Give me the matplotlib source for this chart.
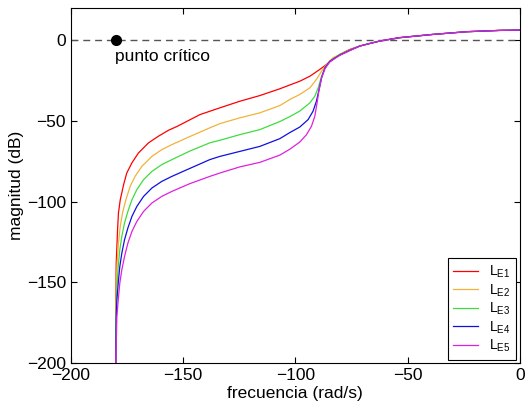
import numpy as np
import matplotlib
matplotlib.use("Agg")
import matplotlib.pyplot as plt

plt.rcParams['font.family'] = ['Liberation Sans', 'DejaVu Sans']
plt.rcParams['mathtext.default'] = 'regular'

# tail shared by all curves (they converge after about -75)
tail_x = [-71.3, -66.8, -62.4, -53.5, -38.8, -23.6, -8.9, 0]
tail_y = [-3.5, -1.9, -0.4, 1.7, 3.7, 5.4, 6.2, 6.4]

le1_x = [-180.0, -180.0, -179.96, -179.8, -179.5, -179.2, -178.8, -178.0, -176.5, -175.1,
         -172.8, -169.9, -165.4, -161.0, -156.5, -152.8, -142.5, -133.6, -124.7, -115.8,
         -106.9, -102.4, -98.0, -93.5, -89.1, -86.1, -83.2, -80.2, -77.2, -75.7] + tail_x
le1_y = [-200, -179.5, -158.8, -138.1, -127.8, -117.4, -107.0, -98.8, -89.4, -82.2,
         -75.9, -69.8, -63.5, -59.4, -55.7, -53.4, -46.0, -41.8, -37.7, -34.2,
         -30.0, -27.6, -25.3, -22.2, -18.0, -14.9, -11.8, -8.7, -6.6, -5.6] + tail_y

le2_x = [-180.0, -179.96, -179.8, -179.4, -178.8, -178.0, -177.0, -175.5, -173.6, -171.4,
         -168.4, -163.9, -159.5, -155.0, -147.0, -138.1, -133.6, -124.7, -115.8, -106.9,
         -102.4, -98.0, -93.5, -90.6, -88.3, -86.1, -83.2, -80.2, -75.7] + tail_x
le2_y = [-200, -173.3, -150.5, -138.1, -125.6, -115.3, -107.0, -98.8, -90.5, -84.3,
         -78.1, -71.9, -67.7, -64.6, -59.6, -54.2, -51.6, -48.0, -44.9, -40.4,
         -36.6, -33.5, -29.4, -24.2, -19.1, -14.9, -10.7, -8.7, -6.0] + tail_y

le3_x = [-180.0, -179.96, -179.8, -179.5, -178.9, -178.2, -177.3, -176.1, -174.6, -172.8,
         -170.6, -167.6, -163.9, -159.5, -155.0, -147.0, -138.1, -133.6, -124.7, -115.8,
         -106.9, -102.4, -98.0, -93.5, -91.3, -89.8, -88.3, -86.8, -84.6, -80.2,
         -75.7] + tail_x
le3_y = [-200, -179.5, -164.0, -152.6, -140.2, -129.8, -121.5, -113.2, -106.0, -98.8,
         -92.5, -86.3, -81.2, -77.0, -73.9, -68.6, -63.5, -61.9, -58.4, -55.3,
         -50.3, -47.2, -43.8, -38.7, -34.6, -29.4, -22.2, -17.0, -12.9, -8.7,
         -6.0] + tail_y

le4_x = [-180.0, -179.9, -179.8, -179.5, -178.9, -178.2, -177.3, -176.1, -174.6, -172.8,
         -170.6, -167.6, -163.9, -159.5, -155.0, -150.0, -138.1, -133.6, -124.7, -115.8,
         -106.9, -102.4, -98.0, -94.3, -92.1, -90.6, -89.4, -88.3, -86.8, -84.6,
         -80.2, -75.7] + tail_x
le4_y = [-200, -185.7, -172.0, -160.9, -150.5, -140.2, -131.9, -123.6, -116.3, -109.1,
         -102.9, -96.7, -91.5, -87.4, -84.3, -81.2, -73.9, -71.9, -68.8, -65.7,
         -60.9, -57.1, -53.7, -49.1, -43.9, -37.7, -30.4, -23.2, -17.0, -12.9,
         -9.1, -6.2] + tail_y

le5_x = [-180.0, -179.9, -179.7, -179.5, -178.9, -178.2, -177.3, -176.1, -174.6, -172.8,
         -170.6, -167.6, -163.9, -159.5, -155.0, -147.0, -138.1, -133.6, -124.7, -115.8,
         -106.9, -102.4, -98.0, -95.0, -92.8, -91.3, -90.3, -89.4, -88.3, -86.8,
         -84.6, -80.2, -75.7] + tail_x
le5_y = [-200, -191.9, -182.6, -171.2, -160.9, -150.5, -142.2, -134.0, -125.7, -118.4,
         -112.2, -106.0, -100.8, -96.7, -93.6, -88.8, -84.3, -82.2, -78.4, -75.6,
         -71.1, -67.4, -63.0, -58.4, -53.2, -47.0, -38.7, -30.4, -23.2, -17.6,
         -13.2, -9.3, -6.3] + tail_y

labels = ['L$_{E1}$', 'L$_{E2}$', 'L$_{E3}$', 'L$_{E4}$', 'L$_{E5}$']
colors = ['#ff0000', '#f2b23a', '#3fdc3f', '#1010e0', '#dd22dd']

critical_x = -180
critical_y = 0

fig = plt.figure(figsize=(5.25, 4.07), dpi=100)
ax = fig.add_axes([0.135, 0.108, 0.855, 0.872])

ax.plot([-200, 0], [0, 0], linestyle=(0, (5, 3.5)), color='#555555', linewidth=1)

curves = [(le1_x, le1_y), (le2_x, le2_y), (le3_x, le3_y), (le4_x, le4_y), (le5_x, le5_y)]
for (cx, cy), lab, col in zip(curves, labels, colors):
    ax.plot(cx, cy, color=col, linewidth=0.9, label=lab)

ax.plot(critical_x, critical_y, 'o', color='black', markersize=7)
ax.text(-180.4, -10, 'punto crítico', fontsize=12.5, ha='left', va='center')

ax.set_xlim(-200, 0)
ax.set_ylim(-200, 20)
ax.set_xticks([-200, -150, -100, -50, 0])
ax.set_yticks([-200, -150, -100, -50, 0])
ax.set_xticklabels(['\u2212200', '\u2212150', '\u2212100', '\u221250', '0'])
ax.set_yticklabels(['\u2212200', '\u2212150', '\u2212100', '\u221250', '0'])
ax.tick_params(direction='in', top=True, right=True, labelsize=12.5, length=4)
ax.set_xlabel('frecuencia (rad/s)', fontsize=12.5, labelpad=2)
ax.set_ylabel('magnitud (dB)', fontsize=12.5, labelpad=2)

leg = ax.legend(loc='lower right', fontsize=10, fancybox=False, edgecolor='black',
                handlelength=1.8, labelspacing=0.15, borderaxespad=0.25, framealpha=1)
leg.get_frame().set_linewidth(0.8)

fig.savefig('out.png', dpi=100)
